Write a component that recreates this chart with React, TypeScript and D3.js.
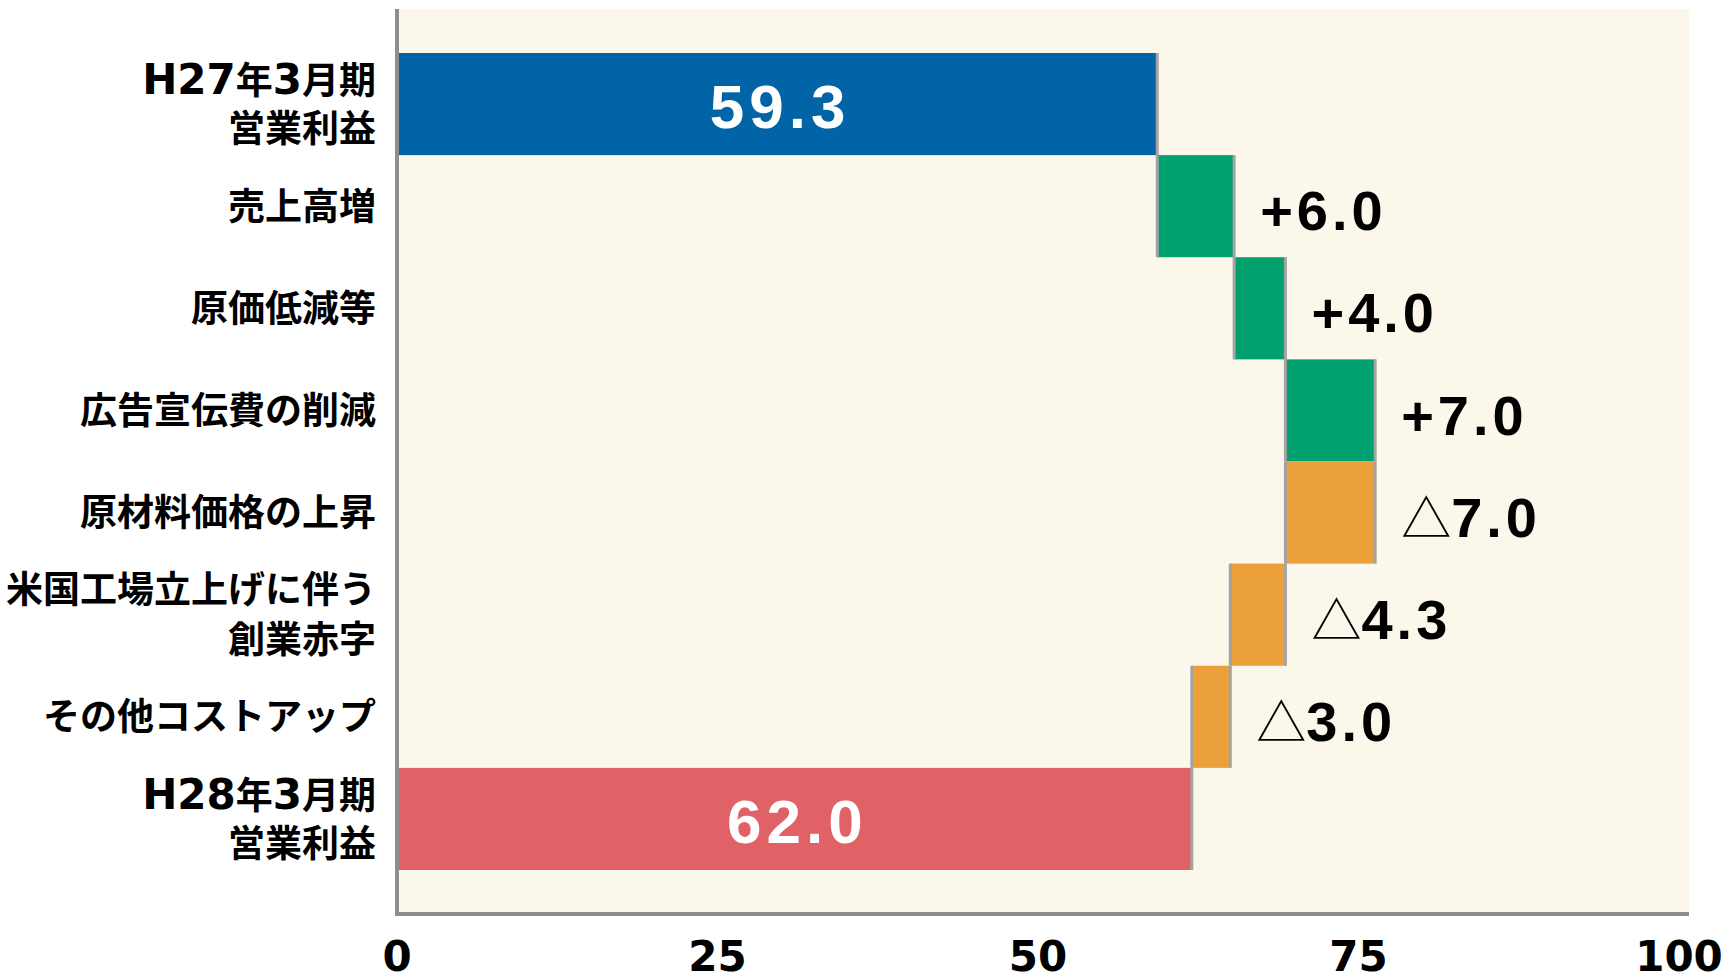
import { useEffect, useRef } from 'react';
import * as d3 from 'd3';

const categories = [
  'H27年3月期\n営業利益',
  '売上高増',
  '原価低減等',
  '広告宣伝費の削減',
  '原材料価格の上昇',
  '米国工場立上げに伴う\n創業赤字',
  'その他コストアップ',
  'H28年3月期\n営業利益',
];
const values = [59.3, 6.0, 4.0, 7.0, -7.0, -4.3, -3.0, 62.0];
const isTotal = [true, false, false, false, false, false, false, true];
const totalColors = ['#0064a6', '#e06266'];
const xTicks = [0, 25, 50, 75, 100];

export default function App() {
  const svgRef = useRef<SVGSVGElement>(null);

  useEffect(() => {
    if (!svgRef.current) return;

    const width = 1731;
    const height = 980;
    const plot = { left: 397, right: 1689, top: 9, bottom: 914 };

    const svg = d3.select(svgRef.current)
      .attr('width', width)
      .attr('height', height)
      .attr('viewBox', `0 0 ${width} ${height}`);

    svg.selectAll('*').remove();

    const x = d3.scaleLinear().domain([0, 100]).range([plot.left, 1679]);
    const y = d3.scaleBand().domain(categories).range([53, 870]).padding(0);

    // running totals for the waterfall
    let run = 0;
    const bars = categories.map((c, i) => {
      let x0: number, x1: number;
      if (isTotal[i]) {
        x0 = 0; x1 = values[i]; run = values[i];
      } else {
        const next = run + values[i];
        x0 = Math.min(run, next); x1 = Math.max(run, next); run = next;
      }
      const fill = isTotal[i]
        ? totalColors[i === 0 ? 0 : 1]
        : values[i] > 0 ? '#00a16f' : '#eca03c';
      return { c, i, x0, x1, v: values[i], total: isTotal[i], fill };
    });

    // plot background
    svg.append('rect')
      .attr('x', plot.left)
      .attr('y', plot.top)
      .attr('width', plot.right - plot.left)
      .attr('height', plot.bottom - plot.top)
      .attr('fill', '#fbf7eb');

    // Bars
    svg.selectAll('.bar')
      .data(bars)
      .join('rect')
      .attr('class', 'bar')
      .attr('x', d => x(d.x0))
      .attr('y', d => y(d.c)!)
      .attr('width', d => x(d.x1) - x(d.x0))
      .attr('height', y.bandwidth())
      .attr('fill', d => d.fill);

    // gray edges on the bar ends
    const edges = bars.flatMap(d => (d.x0 > 0 ? [d.x0, d.x1] : [d.x1]).map(v => ({ v, c: d.c })));
    svg.selectAll('.edge')
      .data(edges)
      .join('line')
      .attr('class', 'edge')
      .attr('x1', d => x(d.v))
      .attr('x2', d => x(d.v))
      .attr('y1', d => y(d.c)!)
      .attr('y2', d => y(d.c)! + y.bandwidth())
      .attr('stroke', '#a3a3a3')
      .attr('stroke-width', 3);

    // axes lines
    svg.append('line')
      .attr('x1', plot.left).attr('x2', plot.left)
      .attr('y1', plot.top).attr('y2', plot.bottom + 2)
      .attr('stroke', '#8e8e8e').attr('stroke-width', 4);
    svg.append('line')
      .attr('x1', plot.left - 2).attr('x2', plot.right)
      .attr('y1', plot.bottom).attr('y2', plot.bottom)
      .attr('stroke', '#8e8e8e').attr('stroke-width', 4);

    // tick labels
    svg.selectAll('.tick')
      .data(xTicks)
      .join('text')
      .attr('class', 'tick')
      .attr('x', d => x(d))
      .attr('y', 956)
      .attr('dy', '0.36em')
      .attr('text-anchor', 'middle')
      .attr('fill', '#000')
      .style('font-family', '"DejaVu Sans", sans-serif')
      .style('font-weight', '700')
      .style('font-size', '42px')
      .text(d => String(d));

    // category labels (latin runs set larger, like the original)
    const cat = svg.selectAll('.cat')
      .data(categories)
      .join('text')
      .attr('class', 'cat')
      .attr('text-anchor', 'end')
      .attr('fill', '#000')
      .style('font-family', '"Noto Sans CJK JP", sans-serif')
      .style('font-weight', '700')
      .style('font-size', '37px');
    cat.each(function (d) {
      const lines = d.split('\n');
      const cy = y(d)! + y.bandwidth() / 2;
      const t = d3.select(this);
      lines.forEach((ln, k) => {
        const runs = ln.match(/[A-Za-z0-9]+|[^A-Za-z0-9]+/g) || [];
        runs.forEach((r, j) => {
          const sp = t.append('tspan').text(r);
          if (j === 0) {
            sp.attr('x', 376)
              .attr('y', cy + (k - (lines.length - 1) / 2) * 50)
              .attr('dy', '0.36em');
          }
          if (/[A-Za-z0-9]/.test(r)) {
            sp.style('font-family', '"DejaVu Sans", sans-serif')
              .style('font-size', '42px');
          }
        });
      });
    });

    // values inside total bars
    svg.selectAll('.tot')
      .data(bars.filter(d => d.total))
      .join('text')
      .attr('class', 'tot')
      .attr('x', d => (x(d.x0) + x(d.x1)) / 2 + 3)
      .attr('y', d => y(d.c)! + y.bandwidth() / 2 + 2)
      .attr('dy', '0.36em')
      .attr('text-anchor', 'middle')
      .attr('fill', '#fff')
      .style('font-family', '"Liberation Sans", Arial, sans-serif')
      .style('font-weight', '700')
      .style('font-size', '62px')
      .style('letter-spacing', '5px')
      .text(d => d.v.toFixed(1));

    // delta labels
    const dl = svg.selectAll('.delta')
      .data(bars.filter(d => !d.total))
      .join('text')
      .attr('class', 'delta')
      .attr('x', d => x(d.x1) + 26)
      .attr('y', d => y(d.c)! + y.bandwidth() / 2 + 4)
      .attr('dy', '0.36em')
      .attr('fill', '#000')
      .style('font-family', '"Liberation Sans", Arial, sans-serif')
      .style('font-weight', '700')
      .style('font-size', '56px')
      .style('letter-spacing', '4px');
    dl.each(function (d) {
      const t = d3.select(this);
      if (d.v > 0) {
        t.append('tspan').text('+' + d.v.toFixed(1));
      } else {
        t.append('tspan')
          .style('font-family', '"Noto Sans CJK JP", sans-serif')
          .style('font-weight', '400')
          .style('font-size', '50px')
          .style('letter-spacing', '0px')
          .text('△');
        t.append('tspan').text(Math.abs(d.v).toFixed(1));
      }
    });
  }, []);

  return (
    <svg ref={svgRef} style={{ position: 'absolute', left: 0, top: 0, display: 'block' }} />
  );
}
